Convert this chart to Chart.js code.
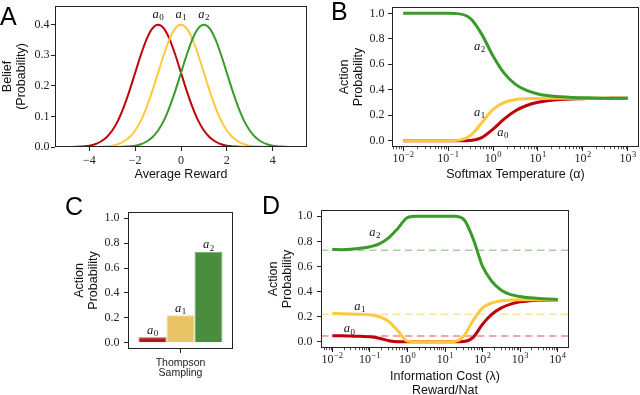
<!DOCTYPE html>
<html>
<head>
<meta charset="utf-8">
<script src="https://cdn.jsdelivr.net/npm/chart.js@4/dist/chart.umd.min.js"></script>
<style>
html, body { margin: 0; padding: 0; background: #fff; overflow: hidden; }
#wrap { position: relative; width: 640px; height: 395px; }
#wrap canvas { position: absolute; left: 0; top: 0; }
</style>
</head>
<body>
<div id="wrap">
  <canvas id="chartA" width="640" height="395"></canvas>
  <canvas id="chartB" width="640" height="395"></canvas>
  <canvas id="chartC" width="640" height="395"></canvas>
  <canvas id="chartD" width="640" height="395"></canvas>
</div>
<script>
// ---- values ----
var red = '#c0000b', yellow = '#ffc83d', green = '#3a9a2a';

// A: belief over average reward
var rewardX = [-5, -4.75, -4.5, -4.25, -4, -3.75, -3.5, -3.25, -3, -2.75, -2.5, -2.25, -2, -1.75, -1.5, -1.25, -1, -0.75, -0.5, -0.25,
  0, 0.25, 0.5, 0.75, 1, 1.25, 1.5, 1.75, 2, 2.25, 2.5, 2.75, 3, 3.25, 3.5, 3.75, 4, 4.25, 4.5, 4.75, 5];
var beliefA0 = [0, 0, 0.001, 0.002, 0.004, 0.009, 0.018, 0.032, 0.054, 0.086, 0.130, 0.183, 0.242, 0.301, 0.352, 0.387, 0.399, 0.387, 0.352, 0.301,
  0.242, 0.183, 0.130, 0.086, 0.054, 0.032, 0.018, 0.009, 0.004, 0.002, 0.001, 0, 0, 0, 0, 0, 0, 0, 0, 0, 0];
var beliefA1 = [0, 0, 0, 0, 0, 0, 0.001, 0.002, 0.004, 0.009, 0.018, 0.032, 0.054, 0.086, 0.130, 0.183, 0.242, 0.301, 0.352, 0.387,
  0.399, 0.387, 0.352, 0.301, 0.242, 0.183, 0.130, 0.086, 0.054, 0.032, 0.018, 0.009, 0.004, 0.002, 0.001, 0, 0, 0, 0, 0, 0];
var beliefA2 = [0, 0, 0, 0, 0, 0, 0, 0, 0, 0, 0.001, 0.002, 0.004, 0.009, 0.018, 0.032, 0.054, 0.086, 0.130, 0.183,
  0.242, 0.301, 0.352, 0.387, 0.399, 0.387, 0.352, 0.301, 0.242, 0.183, 0.130, 0.086, 0.054, 0.032, 0.018, 0.009, 0.004, 0.002, 0.001, 0, 0];
var rewardTicks = [-4, -2, 0, 2, 4];
var beliefTicks = [0, 0.1, 0.2, 0.3, 0.4];

// B: softmax action probabilities
var temperature = [0.01, 0.0178, 0.0316, 0.0562, 0.1, 0.178, 0.316, 0.562, 1, 1.78, 3.16, 5.62, 10, 17.8, 31.6, 56.2, 100, 178, 316, 562, 1000];
var softmaxA0 = [0, 0, 0, 0, 0, 0, 0.002, 0.024, 0.090, 0.171, 0.235, 0.276, 0.301, 0.315, 0.323, 0.328, 0.330, 0.332, 0.332, 0.333, 0.333];
var softmaxA1 = [0, 0, 0, 0, 0, 0.004, 0.041, 0.141, 0.245, 0.301, 0.323, 0.330, 0.332, 0.333, 0.333, 0.333, 0.333, 0.333, 0.333, 0.333, 0.333];
var softmaxA2 = [1, 1, 1, 1, 1, 0.996, 0.958, 0.835, 0.665, 0.528, 0.442, 0.394, 0.367, 0.352, 0.344, 0.339, 0.337, 0.335, 0.334, 0.334, 0.334];
var tempTicks = [0.01, 0.1, 1, 10, 100, 1000];

// C: Thompson sampling
var thompson = [0.045, 0.22, 0.73];

// D: information cost
var infoCost = [0.01, 0.0178, 0.0316, 0.0562, 0.1, 0.178, 0.316, 0.562, 1, 1.78, 3.16, 5.62, 10, 17.8, 31.6, 56.2, 100, 178, 316, 562, 1000, 1780, 3160, 5620, 10000];
var infoA0 = [0.048, 0.047, 0.045, 0.043, 0.04, 0.028, 0.008, 0, 0, 0, 0, 0, 0, 0, 0.002, 0.035, 0.14, 0.22, 0.27, 0.30, 0.318, 0.326, 0.330, 0.332, 0.333];
var infoA1 = [0.225, 0.224, 0.222, 0.219, 0.214, 0.2, 0.162, 0.085, 0.005, 0, 0, 0, 0, 0.002, 0.045, 0.17, 0.27, 0.31, 0.326, 0.332, 0.334, 0.334, 0.334, 0.334, 0.334];
var infoA2 = [0.735, 0.733, 0.737, 0.745, 0.757, 0.78, 0.828, 0.905, 0.99, 1, 1, 1, 1, 1, 0.975, 0.82, 0.6, 0.48, 0.41, 0.375, 0.36, 0.35, 0.344, 0.34, 0.337];
var costTicks = [0.01, 0.1, 1, 10, 100, 1000, 10000];

var probTicks = [0, 0.2, 0.4, 0.6, 0.8, 1.0];

// ---- helpers ----
var SERIF = '"Liberation Serif", "DejaVu Serif", serif';
var SANS = '"Liberation Sans", Arial, sans-serif';
var tickFont = { family: SERIF, size: 12 };
var titleFont = { family: SANS, size: 12.5, lineHeight: 1.08 };

function pts(xs, ys) {
  return xs.map(function (x, i) { return { x: x, y: ys[i] }; });
}
function minus(v) { return v < 0 ? '\u2212' + Math.abs(v) : String(v); }

function line(ys, xs, color, order, width) {
  return { data: pts(xs, ys), borderColor: color, borderWidth: width, pointRadius: 0,
    cubicInterpolationMode: 'monotone', fill: false, order: order };
}

function yAxis(ticks, w, title, pad, min, max) {
  return {
    position: 'left', min: min, max: max,
    afterFit: function (s) { s.width = w; s.paddingTop = 0; s.paddingBottom = 0; },
    afterBuildTicks: function (s) { s.ticks = ticks.map(function (v) { return { value: v }; }); },
    grid: { drawOnChartArea: false, tickLength: 4, tickColor: '#222' },
    border: { display: false },
    ticks: { padding: pad, color: '#222', font: tickFont, callback: function (v) { return v.toFixed(1); } },
    title: { display: true, text: title, color: '#111', font: titleFont, padding: 0 }
  };
}

function logX(ticks, h, title, min, max, titlePad) {
  return {
    type: 'logarithmic', position: 'bottom', min: min, max: max,
    afterFit: function (s) { s.height = h; s.paddingLeft = 0; s.paddingRight = 0; },
    afterBuildTicks: function (s) { s.ticks = ticks.map(function (v) { return { value: v }; }); },
    grid: { drawOnChartArea: false, tickLength: 4, tickColor: '#222' },
    border: { display: false },
    ticks: { display: false },
    title: { display: true, text: title, color: '#111', font: titleFont, padding: titlePad || 0 }
  };
}

// a_i labels, box, minor log ticks, log tick labels, panel letter
function drawA(ctx, k, px, py) {
  ctx.font = 'italic 12.5px ' + SERIF;
  var wa = ctx.measureText('a').width;
  ctx.font = '9px ' + SERIF;
  var wd = ctx.measureText(String(k)).width;
  var x0 = px - (wa + wd + 0.5) / 2, base = py + 2.8;
  ctx.fillStyle = '#111';
  ctx.textAlign = 'left';
  ctx.textBaseline = 'alphabetic';
  ctx.font = 'italic 12.5px ' + SERIF;
  ctx.fillText('a', x0, base);
  ctx.font = '9px ' + SERIF;
  ctx.fillText(String(k), x0 + wa + 0.5, base + 2.5);
}

var decor = {
  id: 'decor',
  afterDatasetsDraw: function (chart, args, o) {
    var ctx = chart.ctx;
    ctx.save();
    (o.labels || []).forEach(function (it) {
      var px, py;
      if (it.ds !== undefined) {
        px = chart.getDatasetMeta(it.ds).data[0].x;
        py = chart.scales.y.getPixelForValue(chart.data.datasets[it.ds].data[0] + it.dy);
      } else {
        px = chart.scales.x.getPixelForValue(it.x);
        py = chart.scales.y.getPixelForValue(it.y);
      }
      drawA(ctx, it.k, px, py);
    });
    ctx.restore();
  },
  afterDraw: function (chart, args, o) {
    var ctx = chart.ctx, a = chart.chartArea, sx = chart.scales.x;
    ctx.save();
    ctx.strokeStyle = '#222';
    ctx.lineWidth = 1;
    ctx.strokeRect(Math.round(a.left) + 0.5, Math.round(a.top) + 0.5,
      Math.round(a.right - a.left) - 1, Math.round(a.bottom - a.top) - 1);
    if (o.logTicks) {
      var lo = Math.floor(Math.log10(sx.min)), hi = Math.ceil(Math.log10(sx.max));
      ctx.lineWidth = 0.8;
      for (var n = lo; n <= hi; n++) {
        for (var m = 2; m <= 9; m++) {
          var v = m * Math.pow(10, n);
          if (v < sx.min || v > sx.max) continue;
          var px = Math.round(sx.getPixelForValue(v)) + 0.5;
          ctx.beginPath();
          ctx.moveTo(px, a.bottom);
          ctx.lineTo(px, a.bottom + 2.2);
          ctx.stroke();
        }
      }
      ctx.fillStyle = '#222';
      ctx.textAlign = 'left';
      ctx.textBaseline = 'alphabetic';
      o.logTicks.forEach(function (v) {
        var e = Math.round(Math.log10(v));
        var es = minus(e);
        ctx.font = '12px ' + SERIF;
        var w1 = ctx.measureText('10').width;
        ctx.font = '8.5px ' + SERIF;
        var w2 = ctx.measureText(es).width;
        var x0 = sx.getPixelForValue(v) - (w1 + w2 + 0.5) / 2;
        var base = a.bottom + o.logDy;
        ctx.font = '12px ' + SERIF;
        ctx.fillText('10', x0, base);
        ctx.font = '8.5px ' + SERIF;
        ctx.fillText(es, x0 + w1 + 0.5, base - 4.8);
      });
    }
    if (o.letter) {
      ctx.fillStyle = '#000';
      ctx.font = '25px ' + SANS;
      ctx.textAlign = 'left';
      ctx.textBaseline = 'alphabetic';
      ctx.fillText(o.letter[0], o.letter[1], o.letter[2]);
    }
    ctx.restore();
  }
};
Chart.register(decor);
Chart.defaults.animation = false;
Chart.defaults.responsive = false;
Chart.defaults.font.family = SANS;
Chart.defaults.plugins.legend.display = false;
Chart.defaults.plugins.tooltip.enabled = false;

// ---- A ----
new Chart(document.getElementById('chartA'), {
  type: 'line',
  data: { datasets: [
    line(beliefA0, rewardX, red, 2, 2),
    line(beliefA1, rewardX, yellow, 1, 2),
    line(beliefA2, rewardX, green, 0, 2)
  ] },
  options: {
    layout: { padding: { left: 1, top: 6, right: 333, bottom: 213.25 } },
    scales: {
      x: {
        type: 'linear', min: -5.5, max: 5.5,
        afterFit: function (s) { s.height = 34.75; s.paddingLeft = 0; s.paddingRight = 0; },
        afterBuildTicks: function (s) { s.ticks = rewardTicks.map(function (v) { return { value: v }; }); },
        grid: { drawOnChartArea: false, tickLength: 4, tickColor: '#222' },
        border: { display: false },
        ticks: { padding: 3, color: '#222', font: tickFont, maxRotation: 0, callback: function (v) { return minus(v); } },
        title: { display: true, text: 'Average Reward', color: '#111', font: titleFont, padding: 0 }
      },
      y: yAxis(beliefTicks, 54, ['Belief', '(Probability)'], 1.5, 0, 0.46)
    },
    plugins: { decor: {
      letter: ['A', 0, 25],
      labels: [{ k: 0, x: -1, y: 0.43 }, { k: 1, x: 0, y: 0.43 }, { k: 2, x: 1, y: 0.43 }]
    } }
  }
});

// ---- B ----
new Chart(document.getElementById('chartB'), {
  type: 'line',
  data: { datasets: [
    line(softmaxA0, temperature, red, 2, 3),
    line(softmaxA1, temperature, yellow, 1, 3),
    line(softmaxA2, temperature, green, 0, 3)
  ] },
  options: {
    layout: { padding: { left: 338.25, top: 7, right: 1, bottom: 213.25 } },
    scales: {
      x: logX(tempTicks, 34.75, 'Softmax Temperature (\u03b1)', Math.pow(10, -2.25), Math.pow(10, 3.25)),
      y: yAxis(probTicks, 53.75, ['Action', 'Probability'], 3.5, -0.05, 1.05)
    },
    plugins: { decor: {
      letter: ['B', 331, 20],
      logTicks: tempTicks, logDy: 15,
      labels: [{ k: 2, x: 0.5, y: 0.736 }, { k: 1, x: 0.5, y: 0.216 }, { k: 0, x: 1.65, y: 0.061 }]
    } }
  }
});

// ---- C ----
new Chart(document.getElementById('chartC'), {
  type: 'bar',
  data: {
    labels: [['Thompson', 'Sampling']],
    datasets: [
      { data: [thompson[0]], backgroundColor: '#b3161b', borderColor: '#c44a4d', borderWidth: 1 },
      { data: [thompson[1]], backgroundColor: '#e8c466', borderColor: '#efd48e', borderWidth: 1 },
      { data: [thompson[2]], backgroundColor: '#4a8d3f', borderColor: '#74ab68', borderWidth: 1 }
    ]
  },
  options: {
    categoryPercentage: 0.8, barPercentage: 1.0,
    layout: { padding: { left: 73.25, top: 212, right: 407, bottom: 16 } },
    scales: {
      x: {
        afterFit: function (s) { s.height = 30; s.paddingLeft = 0; s.paddingRight = 0; },
        grid: { drawOnChartArea: false, offset: false, tickLength: 4, tickColor: '#222' },
        border: { display: false },
        ticks: { padding: 4.5, color: '#222', font: { family: SANS, size: 10.5, lineHeight: 1.0 } }
      },
      y: yAxis(probTicks, 54.75, ['Action', 'Probability'], 4.5, -0.05, 1.05)
    },
    plugins: { decor: {
      letter: ['C', 65, 215],
      labels: [{ k: 0, ds: 0, dy: 0.05 }, { k: 1, ds: 1, dy: 0.05 }, { k: 2, ds: 2, dy: 0.05 }]
    } }
  }
});

// ---- D ----
var dMin = Math.pow(10, -2.3), dMax = Math.pow(10, 4.3);
function dashed(v, color) {
  return { data: [{ x: dMin, y: v }, { x: dMax, y: v }], borderColor: color, borderWidth: 1.5,
    borderDash: [7.5, 4.5], pointRadius: 0, fill: false, order: 3 };
}
new Chart(document.getElementById('chartD'), {
  type: 'line',
  data: { datasets: [
    dashed(thompson[0], 'rgba(192,0,11,0.45)'),
    dashed(thompson[1], 'rgba(255,200,61,0.5)'),
    dashed(thompson[2], 'rgba(58,154,42,0.45)'),
    line(infoA0, infoCost, red, 2, 3),
    line(infoA1, infoCost, yellow, 1, 3),
    line(infoA2, infoCost, green, 0, 3)
  ] },
  options: {
    layout: { padding: { left: 267.25, top: 210, right: 71, bottom: 0 } },
    scales: {
      x: logX(costTicks, 47, ['Information Cost (\u03bb)', 'Reward/Nat'], dMin, dMax, { top: 0, bottom: -2 }),
      y: yAxis(probTicks, 53.75, ['Action', 'Probability'], 4.5, -0.05, 1.05)
    },
    plugins: { decor: {
      letter: ['D', 262, 214],
      logTicks: costTicks, logDy: 15,
      labels: [{ k: 2, x: 0.137, y: 0.868 }, { k: 1, x: 0.0546, y: 0.279 }, { k: 0, x: 0.0284, y: 0.098 }]
    } }
  }
});
</script>
</body>
</html>
